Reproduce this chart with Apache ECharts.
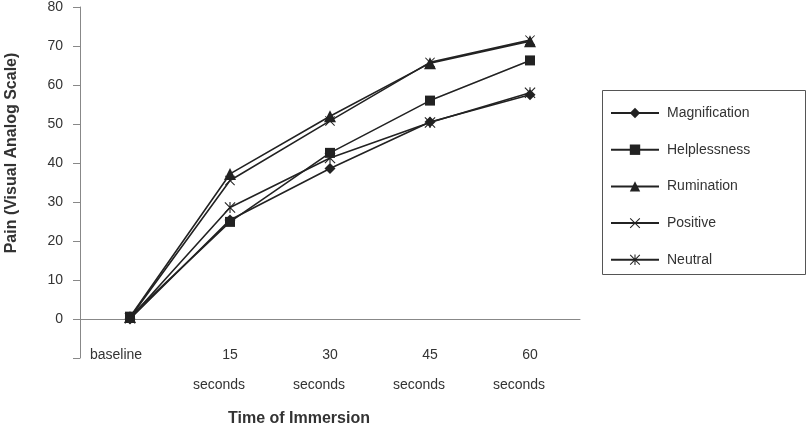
<!DOCTYPE html>
<html>
<head>
<meta charset="utf-8">
<script src="https://cdn.jsdelivr.net/npm/echarts@6/dist/echarts.min.js"></script>
<style>
  html, body { margin: 0; padding: 0; background: #fff; }
  #chart { width: 812px; height: 434px; }
</style>
</head>
<body>
<div id="chart"></div>
<script>
// categories and values
var categories = ['baseline', '15 seconds', '30 seconds', '45 seconds', '60 seconds'];
var magnification = [0, 25.4, 38.6, 50.5, 57.5];
var helplessness = [0.6, 24.9, 42.6, 56.0, 66.3];
var rumination = [0.5, 37.2, 52.0, 65.6, 71.2];
var positive = [0.3, 35.5, 50.8, 65.8, 71.5];
var neutral = [0.2, 28.6, 41.3, 50.4, 58.0];
var seriesNames = ['Magnification', 'Helplessness', 'Rumination', 'Positive', 'Neutral'];
var yMin = -10, yMax = 80, yStep = 10;

var ink = '#222';
var crossPath = 'path://M0,0.7 L0.7,0 L10,9.3 L9.3,10 Z M9.3,0 L10,0.7 L0.7,10 L0,9.3 Z';
var starPath = 'path://M0,0.7 L0.7,0 L10,9.3 L9.3,10 Z M9.3,0 L10,0.7 L0.7,10 L0,9.3 Z M4.5,0 L5.5,0 L5.5,10 L4.5,10 Z';

function makeLine(name, data, symbol, size) {
    return {
        name: name,
        type: 'line',
        data: data,
        symbol: symbol,
        symbolSize: size,
        showAllSymbol: true,
        lineStyle: { color: ink, width: 1.6 },
        itemStyle: { color: ink, borderWidth: 0 },
        emphasis: { disabled: true },
        animation: false
    };
}

var myChart = echarts.init(document.getElementById('chart'));
var option = {
    backgroundColor: '#fff',
    textStyle: { fontFamily: 'Liberation Sans, Arial, sans-serif' },
    grid: { left: 80, top: 5, width: 500, bottom: 76 },
    legend: {
        orient: 'vertical',
        left: 605,
        top: 101,
        itemWidth: 48,
        itemHeight: 13,
        itemGap: 22.7,
        data: seriesNames,
        textStyle: { fontSize: 14, color: '#333', padding: [0, 0, 0, 3] }
    },
    xAxis: {
        type: 'category',
        data: categories,
        boundaryGap: true,
        axisLine: { onZero: true, lineStyle: { color: '#888', width: 1 } },
        axisTick: { show: false },
        axisLabel: {
            margin: -18,
            interval: 0,
            formatter: function (value) {
                var parts = value.split(' ');
                if (parts.length === 1) return '{c|' + value + '}';
                return '{a|' + parts[0] + '}\n{b|' + parts[1] + '}';
            },
            rich: {
                a: { fontSize: 14, color: '#333', lineHeight: 30 },
                b: { fontSize: 14, color: '#333', lineHeight: 30, padding: [0, 22, 0, 0] },
                c: { fontSize: 14, color: '#333', lineHeight: 30, padding: [0, 28, 0, 0] }
            }
        }
    },
    yAxis: {
        type: 'value',
        min: yMin,
        max: yMax,
        interval: yStep,
        axisLine: { show: true, lineStyle: { color: '#888', width: 1 } },
        axisTick: { show: true, length: 7, lineStyle: { color: '#888' } },
        splitLine: { show: false },
        axisLabel: {
            margin: 17,
            fontSize: 14,
            color: '#333',
            formatter: function (v) { return v < 0 ? '' : v; }
        }
    },
    graphic: [
        {
            type: 'rect',
            shape: { x: 602.5, y: 90.5, width: 203, height: 184 },
            style: { fill: 'none', stroke: '#555', lineWidth: 1 },
            silent: true
        },
        {
            type: 'text',
            x: 12,
            y: 153,
            rotation: Math.PI / 2,
            style: {
                text: 'Pain (Visual Analog Scale)',
                font: 'bold 16px Liberation Sans, Arial, sans-serif',
                fill: '#333',
                textAlign: 'center',
                textVerticalAlign: 'middle'
            }
        },
        {
            type: 'text',
            x: 299,
            y: 419,
            style: {
                text: 'Time of Immersion',
                font: 'bold 16px Liberation Sans, Arial, sans-serif',
                fill: '#333',
                textAlign: 'center',
                textVerticalAlign: 'middle'
            }
        }
    ],
    series: [
        makeLine('Magnification', magnification, 'diamond', 11),
        makeLine('Helplessness', helplessness, 'rect', 10),
        makeLine('Rumination', rumination, 'triangle', 12),
        makeLine('Positive', positive, crossPath, 10),
        makeLine('Neutral', neutral, starPath, 11)
    ]
};
myChart.setOption(option);
</script>
</body>
</html>
